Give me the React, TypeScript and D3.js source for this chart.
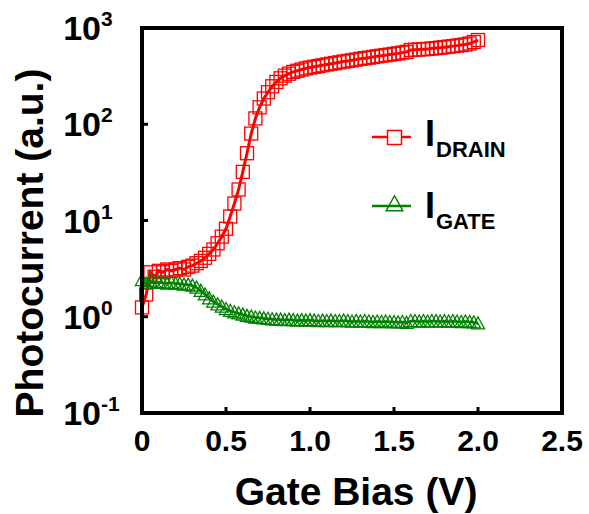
import React from "react";
import * as d3 from "d3";

const gateBias = [
  0, 0.025, 0.05, 0.075, 0.1, 0.125, 0.15, 0.175, 0.2, 0.225, 0.25, 0.275, 0.3, 0.325, 0.35, 0.375,
  0.4, 0.425, 0.45, 0.475, 0.5, 0.525, 0.55, 0.575, 0.6, 0.625, 0.65, 0.675, 0.7, 0.725, 0.75, 0.775,
  0.8, 0.825, 0.85, 0.875, 0.9, 0.925, 0.95, 0.975, 1.0, 1.025, 1.05, 1.075, 1.1, 1.125, 1.15, 1.175,
  1.2, 1.225, 1.25, 1.275, 1.3, 1.325, 1.35, 1.375, 1.4, 1.425, 1.45, 1.475, 1.5, 1.525, 1.55, 1.575,
  1.6, 1.625, 1.65, 1.675, 1.7, 1.725, 1.75, 1.775, 1.8, 1.825, 1.85, 1.875, 1.9, 1.925, 1.95, 1.975, 2.0,
];

const drainCurrent = [
  1.25, 1.7, 2.9, 2.6, 3.0, 2.9, 3.1, 3.0, 3.1, 3.2, 3.1, 3.3, 3.4, 3.6, 3.8, 4.1,
  4.5, 5.0, 5.8, 6.8, 8.2, 11, 15, 21, 32, 50, 80, 115, 150, 185, 215, 248,
  275, 300, 320, 335, 350, 360, 370, 380, 388, 395, 402, 410, 418, 425, 432, 440,
  448, 455, 462, 470, 478, 485, 492, 500, 508, 515, 522, 530, 538, 545, 555, 565,
  590, 595, 598, 602, 606, 612, 618, 625, 632, 640, 648, 656, 665, 675, 690, 715, 750,
];

const gateCurrent = [
  2.4, 2.2, 2.35, 2.25, 2.3, 2.25, 2.2, 2.25, 2.2, 2.2, 2.15, 2.15, 2.1, 2.0, 1.85, 1.7,
  1.55, 1.43, 1.34, 1.27, 1.2, 1.15, 1.11, 1.08, 1.05, 1.02, 1.0, 0.98, 0.97, 0.96, 0.95, 0.94,
  0.93, 0.93, 0.92, 0.93, 0.92, 0.91, 0.92, 0.91, 0.92, 0.91, 0.9, 0.91, 0.9, 0.91, 0.9, 0.9,
  0.91, 0.9, 0.89, 0.9, 0.89, 0.9, 0.89, 0.88, 0.89, 0.88, 0.89, 0.88, 0.88, 0.87, 0.88, 0.86,
  0.9, 0.9, 0.89, 0.9, 0.89, 0.9, 0.9, 0.89, 0.9, 0.89, 0.9, 0.89, 0.88, 0.89, 0.88, 0.87, 0.85,
];

const xTicks = [0, 0.5, 1.0, 1.5, 2.0, 2.5];
const xTickLabels = ["0", "0.5", "1.0", "1.5", "2.0", "2.5"];
const yTicks = [0.1, 1, 10, 100, 1000];
const yTickExponents = ["-1", "0", "1", "2", "3"];
const seriesNames = ["DRAIN", "GATE"];

const W = 589;
const H = 514;
const left = 142;
const right = 562;
const top = 28;
const bottom = 413;
const RED = "#ff0000";
const GREEN = "#008000";
const FONT = "'Liberation Sans', Arial, sans-serif";

export default function App() {
  const x = d3.scaleLinear().domain([0, 2.5]).range([left, right]);
  const y = d3.scaleLog().domain([0.1, 1000]).range([bottom, top]);

  const drainPts = gateBias.map((v, i) => [x(v), y(drainCurrent[i])] as [number, number]);
  const gatePts = gateBias.map((v, i) => [x(v), y(gateCurrent[i])] as [number, number]);
  const line = d3.line();

  const sq = 13;
  const tri = (cx: number, cy: number, s: number) =>
    `M${cx},${cy - s * 0.55} L${cx + s * 0.55},${cy + s * 0.45} L${cx - s * 0.55},${cy + s * 0.45} Z`;

  return (
    <svg width={W} height={H} style={{ position: "absolute", left: 0, top: 0, background: "#fff" }}>
      <rect x={0} y={0} width={W} height={H} fill="#fff" />
      {/* drain series */}
      <path d={line(drainPts) || ""} fill="none" stroke={RED} strokeWidth={3} />
      {drainPts.map(([px, py], i) => (
        <rect key={"d" + i} x={px - sq / 2} y={py - sq / 2} width={sq} height={sq} fill="none" stroke={RED} strokeWidth={1.3} />
      ))}
      {/* gate series */}
      <path d={line(gatePts) || ""} fill="none" stroke={GREEN} strokeWidth={2.5} />
      {gatePts.map(([px, py], i) => (
        <path key={"g" + i} d={tri(px, py, 12)} fill="none" stroke={GREEN} strokeWidth={1.3} />
      ))}

      {/* frame */}
      <rect x={left} y={top} width={right - left} height={bottom - top} fill="none" stroke="#000" strokeWidth={4} />
      {xTicks.slice(1, -1).map((t) => (
        <line key={"xt" + t} x1={x(t)} x2={x(t)} y1={bottom} y2={bottom - 6} stroke="#000" strokeWidth={3} />
      ))}
      {yTicks.slice(1, -1).map((t) => (
        <line key={"yt" + t} x1={left} x2={left + 6} y1={y(t)} y2={y(t)} stroke="#000" strokeWidth={3} />
      ))}

      {/* x tick labels */}
      {xTicks.map((t, i) => (
        <text key={"xl" + t} x={x(t)} y={451} textAnchor="middle" fontFamily={FONT} fontWeight="bold" fontSize={30} fill="#000">
          {xTickLabels[i]}
        </text>
      ))}
      {/* y tick labels */}
      {yTicks.map((t, i) => (
        <g key={"yl" + t}>
          <text x={101} y={y(t) + 12} textAnchor="end" fontFamily={FONT} fontWeight="bold" fontSize={34} fill="#000">
            10
          </text>
          <text x={101} y={y(t) - 2} textAnchor="start" fontFamily={FONT} fontWeight="bold" fontSize={21} fill="#000">
            {yTickExponents[i]}
          </text>
        </g>
      ))}

      {/* axis titles */}
      <text x={356} y={505} textAnchor="middle" fontFamily={FONT} fontWeight="bold" fontSize={39} fill="#000">
        Gate Bias (V)
      </text>
      <text transform="translate(43,243) rotate(-90)" textAnchor="middle" fontFamily={FONT} fontWeight="bold" fontSize={39} fill="#000">
        Photocurrent (a.u.)
      </text>

      {/* legend */}
      <line x1={372} x2={411} y1={137} y2={137} stroke={RED} strokeWidth={2.7} />
      <rect x={387.5} y={130.5} width={14} height={14} fill="#fff" stroke={RED} strokeWidth={1.5} />
      <text x={425} y={146} fontFamily={FONT} fontWeight="bold" fontSize={36} fill="#000">I</text>
      <text x={436} y={157} fontFamily={FONT} fontWeight="bold" fontSize={22} fill="#000">{seriesNames[0]}</text>

      <line x1={372} x2={411} y1={206} y2={206} stroke={GREEN} strokeWidth={2.7} />
      <path d={tri(394.5, 204, 15)} fill="none" stroke={GREEN} strokeWidth={1.5} />
      <text x={425} y={218} fontFamily={FONT} fontWeight="bold" fontSize={36} fill="#000">I</text>
      <text x={436} y={229} fontFamily={FONT} fontWeight="bold" fontSize={22} fill="#000">{seriesNames[1]}</text>
    </svg>
  );
}
